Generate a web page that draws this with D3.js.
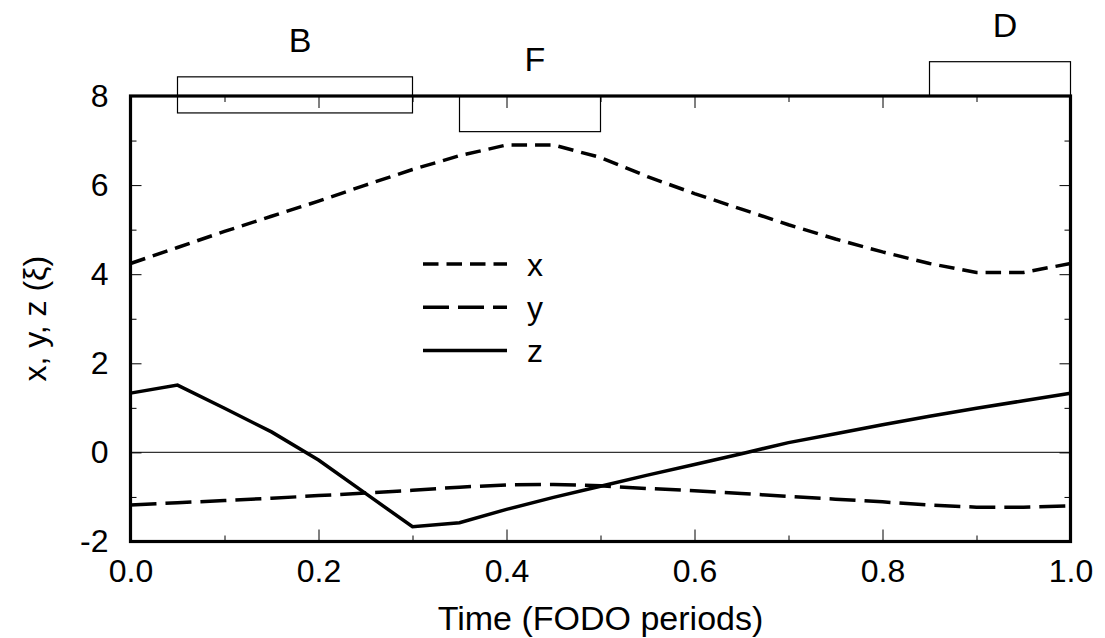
<!DOCTYPE html>
<html lang="en">
<head>
    <title>FODO cell - x, y, z</title>
    <meta charset="utf-8"/>
    <script src="https://d3js.org/d3.v7.min.js"></script>
    <style>
        body { margin: 0; background: #fff; }
        text { font-family: "Liberation Sans", Arial, Helvetica, sans-serif; fill: #000; }
        .tick line { stroke: #000; stroke-width: 1px; }
    </style>
</head>
<body>
<svg width="1105" height="638"></svg>

<script type="text/javascript">

    // datos (tiempo en periodos FODO)
    const tiempo = [0, 0.05, 0.1, 0.15, 0.2, 0.25, 0.3, 0.35, 0.4, 0.45, 0.5,
        0.55, 0.6, 0.65, 0.7, 0.75, 0.8, 0.85, 0.9, 0.95, 1.0];
    const serieX = [4.24, 4.6, 4.96, 5.3, 5.64, 6.0, 6.35, 6.66, 6.9, 6.9, 6.62,
        6.19, 5.81, 5.46, 5.11, 4.79, 4.5, 4.24, 4.04, 4.04, 4.24];
    const serieY = [-1.18, -1.13, -1.08, -1.03, -0.97, -0.91, -0.85, -0.78, -0.73, -0.72, -0.75,
        -0.81, -0.86, -0.92, -0.99, -1.05, -1.11, -1.18, -1.23, -1.23, -1.2];
    const serieZ = [1.33, 1.51, 0.99, 0.46, -0.17, -0.92, -1.67, -1.58, -1.28, -1.01, -0.76,
        -0.51, -0.27, -0.03, 0.22, 0.42, 0.62, 0.81, 0.99, 1.16, 1.33];

    // ticks
    const xTicks = [0, 0.2, 0.4, 0.6, 0.8, 1.0];
    const xTickLabels = ["0.0", "0.2", "0.4", "0.6", "0.8", "1.0"];
    const xMinor = [0.1, 0.3, 0.5, 0.7, 0.9];
    const yTicks = [-2, 0, 2, 4, 6, 8];
    const yTickLabels = ["-2", "0", "2", "4", "6", "8"];
    const yMinor = [-1, 1, 3, 5, 7];

    // imanes de la celda (B = dipolo, F y D = cuadrupolos)
    const imanNombre = ["B", "F", "D"];
    const imanInicio = [0.05, 0.35, 0.85];
    const imanFin = [0.3, 0.5, 1.0];
    const imanArriba = [8.43, 8.0, 8.77];
    const imanAbajo = [7.62, 7.2, 8.0];

    const mLeft = 130.5, mTop = 96, ancho = 940, alto = 445.5;

    const svg = d3.select("svg");

    let escalaX = d3.scaleLinear().domain([0, 1]).range([mLeft, mLeft + ancho]);
    let escalaY = d3.scaleLinear().domain([-2, 8]).range([mTop + alto, mTop]);

    // linea del cero
    svg.append("line")
        .attr("x1", escalaX(0)).attr("x2", escalaX(1))
        .attr("y1", escalaY(0)).attr("y2", escalaY(0))
        .attr("stroke", "#333").attr("stroke-width", 1.2);

    // ejes: ticks hacia adentro, mayores y menores
    function dibujaEje(eje, transform) {
        svg.append("g")
            .attr("transform", transform)
            .style("font-size", "32px")
            .style("font-family", "Liberation Sans, Arial, sans-serif")
            .call(eje)
            .call(g => g.select(".domain").remove());
    }

    const xFmt = d => xTickLabels[xTicks.indexOf(d)];
    const yFmt = d => yTickLabels[yTicks.indexOf(d)];

    dibujaEje(d3.axisBottom(escalaX).tickValues(xTicks).tickFormat(xFmt)
        .tickSize(-12).tickPadding(18), "translate(0," + (mTop + alto) + ")");
    dibujaEje(d3.axisBottom(escalaX).tickValues(xMinor).tickFormat("")
        .tickSize(-6), "translate(0," + (mTop + alto) + ")");
    dibujaEje(d3.axisTop(escalaX).tickValues(xTicks).tickFormat("")
        .tickSize(-12), "translate(0," + mTop + ")");
    dibujaEje(d3.axisTop(escalaX).tickValues(xMinor).tickFormat("")
        .tickSize(-6), "translate(0," + mTop + ")");

    dibujaEje(d3.axisLeft(escalaY).tickValues(yTicks).tickFormat(yFmt)
        .tickSize(-11).tickPadding(22), "translate(" + mLeft + ",0)");
    dibujaEje(d3.axisLeft(escalaY).tickValues(yMinor).tickFormat("")
        .tickSize(-6), "translate(" + mLeft + ",0)");
    dibujaEje(d3.axisRight(escalaY).tickValues(yTicks).tickFormat("")
        .tickSize(-11), "translate(" + (mLeft + ancho) + ",0)");
    dibujaEje(d3.axisRight(escalaY).tickValues(yMinor).tickFormat("")
        .tickSize(-6), "translate(" + (mLeft + ancho) + ",0)");

    // marco
    svg.append("rect")
        .attr("x", mLeft).attr("y", mTop)
        .attr("width", ancho).attr("height", alto)
        .attr("fill", "none").attr("stroke", "#000").attr("stroke-width", 3.2);

    // imanes
    imanNombre.forEach((n, i) => {
        svg.append("rect")
            .attr("x", escalaX(imanInicio[i]))
            .attr("y", escalaY(imanArriba[i]))
            .attr("width", escalaX(imanFin[i]) - escalaX(imanInicio[i]))
            .attr("height", escalaY(imanAbajo[i]) - escalaY(imanArriba[i]))
            .attr("fill", "none").attr("stroke", "#000").attr("stroke-width", 1.2);

        svg.append("text")
            .attr("x", escalaX((imanInicio[i] + imanFin[i]) / 2) + 5)
            .attr("y", escalaY(imanArriba[i]) - 25)
            .attr("text-anchor", "middle")
            .style("font-size", "34px")
            .text(n);
    });

    // series
    const series = [
        {nombre: "x", valores: serieX, dash: "15.5,8"},
        {nombre: "y", valores: serieY, dash: "26,9"},
        {nombre: "z", valores: serieZ, dash: null}
    ];

    let linea = d3.line()
        .x((d, i) => escalaX(tiempo[i]))
        .y(d => escalaY(d));

    series.forEach(s => {
        svg.append("path")
            .attr("d", linea(s.valores))
            .attr("fill", "none")
            .attr("stroke", "#000")
            .attr("stroke-width", 3.5)
            .attr("stroke-dasharray", s.dash);
    });

    // leyenda
    const leyenda = svg.append("g").attr("transform", "translate(423,264)");
    series.forEach((s, i) => {
        leyenda.append("line")
            .attr("x1", 0).attr("x2", 84)
            .attr("y1", i * 43.2).attr("y2", i * 43.2)
            .attr("stroke", "#000").attr("stroke-width", 3.5)
            .attr("stroke-dasharray", s.dash);
        leyenda.append("text")
            .attr("x", 104).attr("y", i * 43.2 + 12)
            .style("font-size", "32px")
            .text(s.nombre);
    });

    // titulos de ejes
    svg.append("text")
        .attr("x", mLeft + ancho / 2)
        .attr("y", 630)
        .attr("text-anchor", "middle")
        .style("font-size", "34px")
        .text("Time (FODO periods)");

    svg.append("text")
        .attr("transform", "translate(46," + (mTop + alto / 2) + ") rotate(-90)")
        .attr("text-anchor", "middle")
        .style("font-size", "32px")
        .text("x, y, z (ξ)");

</script>
</body>
</html>
